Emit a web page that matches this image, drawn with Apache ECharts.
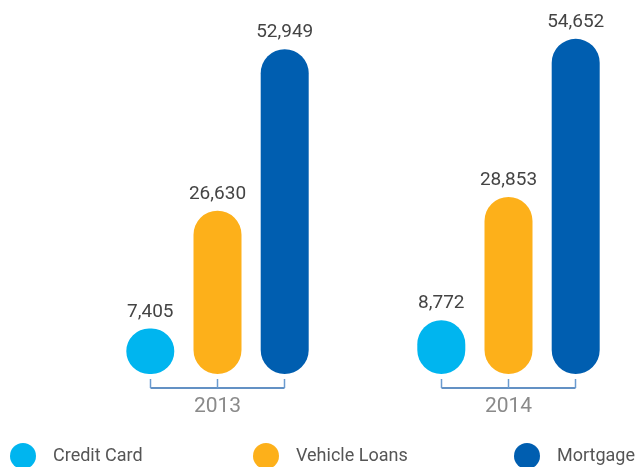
<!DOCTYPE html>
<html>
<head>
<meta charset="utf-8">
<script src="https://cdn.jsdelivr.net/npm/echarts@6/dist/echarts.min.js"></script>
<style>
  html, body { margin: 0; padding: 0; background: #fff; }
  #chart { width: 643px; height: 467px; }
</style>
</head>
<body>
<div id="chart"></div>
<script>
// Loan balances by year

var years = ['2013', '2014'];
var creditCard = [7405, 8772];
var vehicleLoans = [26630, 28853];
var mortgage = [52949, 54652];

var fmt = function (p) { return p.value.toLocaleString('en-US'); };

function barSeries(name, data, color) {
    return {
        name: name,
        type: 'bar',
        data: data,
        barWidth: 48,
        barGap: '40%',
        itemStyle: { color: color, borderRadius: 24 },
        label: {
            show: true,
            position: 'top',
            distance: 7,
            formatter: fmt,
            fontSize: 19,
            fontFamily: 'Roboto',
            color: '#444'
        }
    };
}

function legendAt(name, left) {
    return {
        data: [name],
        left: left,
        top: 443,
        padding: 0,
        icon: 'circle',
        itemWidth: 26,
        itemHeight: 26,
        textStyle: {
            fontSize: 18,
            fontFamily: 'Roboto',
            color: '#555',
            padding: [0, 0, 0, 12]
        }
    };
}

document.addEventListener('DOMContentLoaded', () => {
    var chart = echarts.init(document.querySelector('#chart'));
    chart.setOption({
        animation: false,
        grid: { left: 72, width: 582, top: 6, bottom: 93, outerBoundsMode: 'none' },
        legend: [
            legendAt('Credit Card', 10),
            legendAt('Vehicle Loans', 253),
            legendAt('Mortgage', 514)
        ],
        xAxis: {
            type: 'category',
            data: years,
            axisLine: { show: false },
            axisTick: { show: false },
            axisLabel: {
                margin: 22,
                fontSize: 21,
                fontFamily: 'Roboto',
                color: '#8a8a8a'
            }
        },
        yAxis: {
            type: 'value',
            min: 0,
            max: 60000,
            show: false,
            splitLine: { show: false }
        },
        series: [
            barSeries('Credit Card', creditCard, '#00b5ef'),
            barSeries('Vehicle Loans', vehicleLoans, '#fdb01a'),
            barSeries('Mortgage', mortgage, '#005eb0'),
            {
                // bracket under each year group
                type: 'custom',
                silent: true,
                data: years.map(y => [y, 0]),
                encode: { x: 0, y: 1 },
                renderItem: function (params, api) {
                    var c = api.coord([api.value(0), 0]);
                    var off = 67, y1 = c[1] + 5, y2 = c[1] + 14;
                    var line = { stroke: '#2f6db0', lineWidth: 1.5 };
                    var tick = { stroke: '#6a9bd0', lineWidth: 1.5 };
                    return {
                        type: 'group',
                        children: [
                            { type: 'line', shape: { x1: c[0] - off, y1: y2, x2: c[0] + off, y2: y2 }, style: line },
                            { type: 'line', shape: { x1: c[0] - off, y1: y1, x2: c[0] - off, y2: y2 }, style: tick },
                            { type: 'line', shape: { x1: c[0], y1: y1, x2: c[0], y2: y2 }, style: tick },
                            { type: 'line', shape: { x1: c[0] + off, y1: y1, x2: c[0] + off, y2: y2 }, style: tick }
                        ]
                    };
                }
            }
        ]
    });
});
</script>
</body>
</html>
